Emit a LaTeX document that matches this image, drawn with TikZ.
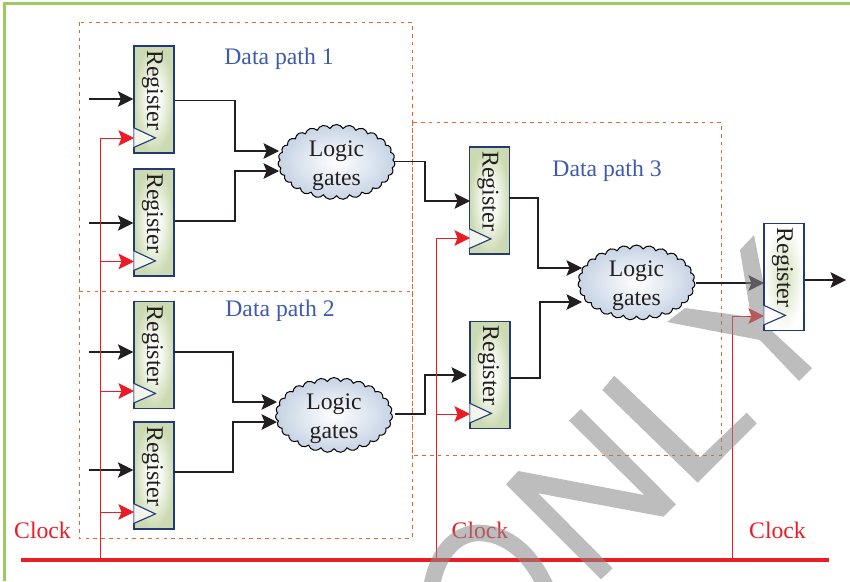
\documentclass[tikz,border=0pt]{standalone}
\usepackage{fontspec}
\setmainfont{Liberation Serif}
\usetikzlibrary{arrows.meta,shapes.symbols}
\definecolor{framegreen}{HTML}{9CCB5C}
\definecolor{dashor}{HTML}{E0682A}
\definecolor{clockred}{HTML}{ED1C24}
\definecolor{inkblk}{HTML}{231F20}
\definecolor{navyb}{HTML}{24397A}
\definecolor{regg}{HTML}{CBDAB0}
\definecolor{cloudb}{HTML}{C6D3E4}
\definecolor{dpblue}{HTML}{3F5BA9}
\definecolor{wmgray}{rgb}{0.54,0.54,0.54}
\pgfdeclarelayer{wm}
\pgfdeclarelayer{topl}
\pgfsetlayers{main,wm,topl}
\pgfdeclareradialshading{regshade}{\pgfpointorigin}{color(0bp)=(white); color(10bp)=(white!80!regg); color(25bp)=(regg); color(50bp)=(regg)}
\tikzset{
  tipa/.style={-{Stealth[length=15.5pt,width=15.5pt,inset=3pt]}},
  wire/.style={draw=inkblk,line width=1.05pt,tipa,line join=miter},
  ckwire/.style={draw=clockred,line width=1pt,tipa},
  cktrunk/.style={draw=clockred,line width=1pt},
  dashbox/.style={draw=dashor,line width=0.95pt,dash pattern=on 3.6pt off 4.2pt},
  regbox/.style={draw=navyb,line width=1.2pt,minimum width=40pt,minimum height=107pt,inner sep=0pt,shading=regshade},
  regboxw/.style={draw=navyb,line width=1.2pt,minimum width=40pt,minimum height=107pt,inner sep=0pt,inner color=regg!85!white,outer color=white},
  regtext/.style={rotate=-90,anchor=base,font=\fontsize{24pt}{28pt}\selectfont,text=inkblk,inner sep=0pt},
  trig/.style={draw=navyb,line width=1.1pt,fill=white,fill opacity=.75,line join=miter},
  logicc/.style={cloud,cloud puffs=27,cloud puff arc=125,aspect=1.55,draw=black,line width=1pt,inner color=white,outer color=cloudb,minimum width=117pt,minimum height=75pt,inner sep=0pt},
  logict/.style={align=center,text=inkblk,inner sep=0pt,font=\fontsize{23.7pt}{29pt}\selectfont},
  dptext/.style={text=dpblue,font=\fontsize{23.7pt}{28pt}\selectfont,anchor=base,inner sep=0pt},
  cktext/.style={text=clockred,font=\fontsize{23.7pt}{28pt}\selectfont,anchor=base west,inner sep=0pt},
  wmark/.style={fill=wmgray,draw=none,fill opacity=.56},
}
\newcommand{\myreg}[3]{%
  \node[regbox] (#1) at (#2,#3) {};
  \node[regtext] (#1t) at ([shift={(-7,-9.5)}]#1.center) {Register};
  \draw[trig] ([shift={(0,-26)}]#1.south west) -- ([shift={(22,-15.7)}]#1.south west) -- ([shift={(0,-6)}]#1.south west);
}
\newcommand{\mylogic}[3]{%
  \node[logicc] (#1) at (#2,#3) {};
  \node[logict] (#1t) at ([shift={(0,3.5)}]#1.center) {Logic\\gates};
}
\begin{document}
\begin{tikzpicture}[x=1pt,y=-1pt]
\useasboundingbox (0,0) rectangle (850,581);
\clip (0,0) rectangle (850,581);
% frame
\draw[framegreen,line width=3pt] (4,581) -- (4,3.5) -- (850,3.5);
% dashed regions
\draw[dashbox] (79,22) rectangle (412,538);
\draw[dashbox] (79,291) -- (412,291);
\draw[dashbox] (412,122) rectangle (721,455);
% registers
\myreg{r1}{154}{99.5}
\myreg{r2}{154}{222.5}
\myreg{r3}{154}{355}
\myreg{r4}{154}{475.5}
\myreg{r5}{489.5}{200.5}
\myreg{r6}{490}{375}
\begin{pgfonlayer}{topl}
\node[regboxw] (r7) at (784,277) {};
\node[regtext] (r7t) at ([shift={(-7,-9.5)}]r7.center) {Register};
\draw[trig] ([shift={(0,-26)}]r7.south west) -- ([shift={(22,-15.7)}]r7.south west) -- ([shift={(0,-6)}]r7.south west);
\end{pgfonlayer}
% logic clouds
\mylogic{c1}{336.5}{162}
\mylogic{c2}{334}{415}
\mylogic{c3}{636.5}{282.5}
% data path labels
\node[dptext] (dp1) at (279,64) {Data path 1};
\node[dptext] (dp2) at (280,316) {Data path 2};
\node[dptext] (dp3) at (607,176) {Data path 3};
% port coordinates
\coordinate (i1) at (89,99);
\coordinate (i2) at (89,223);
\coordinate (i3) at (89,352);
\coordinate (i4) at (89,470);
\coordinate (o1) at (175,100.7);
\coordinate (o2) at (175,221);
\coordinate (o3) at (174,352);
\coordinate (o4) at (174,472);
\coordinate (o5) at (509,198);
\coordinate (o6) at (510,378);
\coordinate (t11) at (279,151);
\coordinate (t12) at (279,171);
\coordinate (t21) at (277,402);
\coordinate (t22) at (277,422);
\coordinate (t31) at (582,268);
\coordinate (t32) at (582,302);
\coordinate (t5) at (470,201);
\coordinate (t6) at (467,375);
\coordinate (co1) at (395,161.5);
\coordinate (co2) at (395,414);
\coordinate (co3) at (696,283);
\coordinate (t7) at (764,283);
\coordinate (o7) at (804,280);
\coordinate (e7) at (846,280);
% data inputs
\draw[wire] (i1) -- (i1 -| r1.west);
\draw[wire] (i2) -- (i2 -| r2.west);
\draw[wire] (i3) -- (i3 -| r3.west);
\draw[wire] (i4) -- (i4 -| r4.west);
% register to logic
\draw[wire] (o1) -- ++(60,0) |- (t11);
\draw[wire] (o2) -- ++(60,0) |- (t12);
\draw[wire] (o3) -- ++(59,0) |- (t21);
\draw[wire] (o4) -- ++(59,0) |- (t22);
\draw[wire] (co1) -- ++(30,0) |- (t5);
\draw[wire] (co2) -- ++(30,0) |- (t6);
\draw[wire] (o5) -- ++(29,0) |- (t31);
\draw[wire] (o6) -- ++(30,0) |- (t32);
\draw[wire] (co3) -- (t7);
\draw[wire] (o7) -- (e7);
% clock
\coordinate (busl) at (21,560);
\coordinate (busr) at (829,560);
\coordinate (k1) at (100,560);
\coordinate (k2) at (436.5,560);
\coordinate (k3) at (732,560);
\draw[cktrunk] (k1) -- (100,138);
\draw[cktrunk] (k2) -- (436.5,238);
\draw[cktrunk] (k3) -- (732,316);
\draw[ckwire] (100,138) -- (134,138);
\draw[ckwire] (100,261.5) -- (134,261.5);
\draw[ckwire] (100,391) -- (134,391);
\draw[ckwire] (100,512) -- (134,512);
\draw[ckwire] (436.5,238) -- (470,238);
\draw[ckwire] (436.5,414) -- (470,414);
\draw[ckwire] (732,316) -- (764,316);
\draw[clockred,line width=3.8pt] (busl) -- (busr);
\node[cktext] (ck1) at (14,538) {Clock};
\node[cktext] (ck2) at (451.5,538) {Clock};
\node[cktext] (ck3) at (749,538) {Clock};
% watermark
\begin{pgfonlayer}{wm}
\fill[wmark] (740,250) -- (754,235) -- (773,332) -- (812,368) -- (799,381) -- (760,340) -- (667,322) -- (685,308) -- (751,317) -- cycle;
\fill[wmark] (602.3,390) -- (614.3,375.7) -- (700,457.3) -- (746.7,412.7) -- (756.7,423.3) -- (697.7,482.7) -- cycle;
\fill[wmark] (569,420.7) -- (581,409) -- (676,504.3) -- (663.3,516.7) -- (538.3,493.3) -- (612.7,568.3) -- (601,579.3) -- (506,484.3) -- (518.3,471) -- (644.3,495) -- cycle;
\draw[wmgray,draw opacity=.56,line width=16.5pt] (430,600) .. controls (433,556) and (455,531) .. (482,533) .. controls (512,535) and (537,560) .. (551,600);
\end{pgfonlayer}
\end{tikzpicture}
\end{document}
